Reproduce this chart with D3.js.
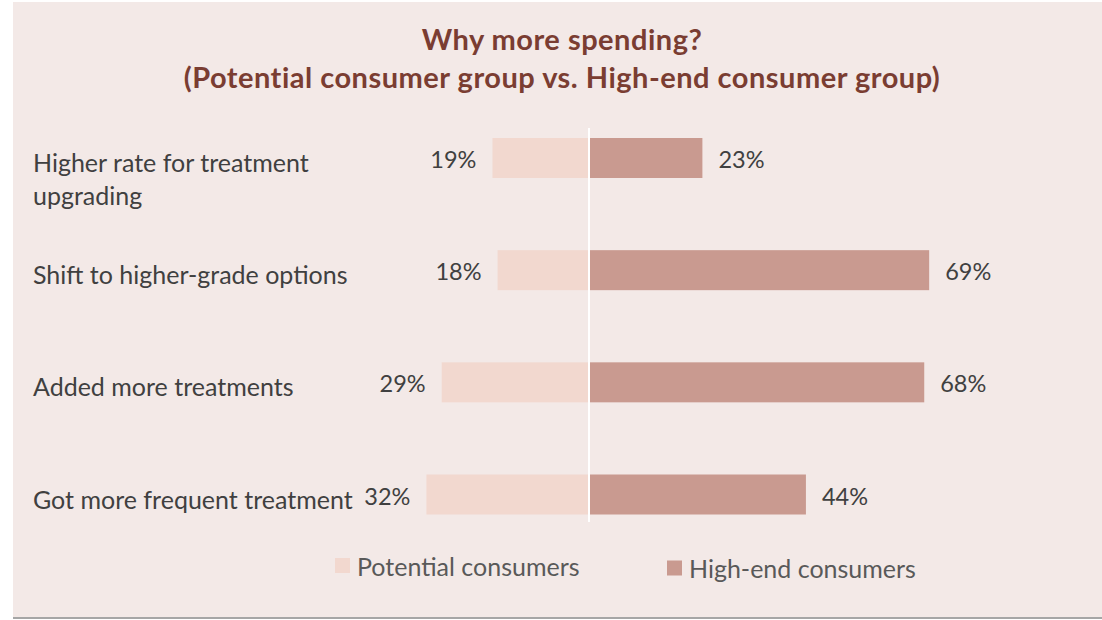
<!DOCTYPE html>
<html>
<head>
<meta charset="utf-8">
<script src="https://cdn.jsdelivr.net/npm/d3@7"></script>
<style>
  html, body { margin: 0; padding: 0; background: #ffffff; }
  svg { display: block; }
  text { font-family: Lato, "Open Sans", sans-serif; }
</style>
</head>
<body>
<svg id="chart" width="1102" height="620"></svg>
<script>
// Reasons for higher spending, two consumer groups
const categories = [
  ["Higher rate for treatment", "upgrading"],
  ["Shift to higher-grade options"],
  ["Added more treatments"],
  ["Got more frequent treatment"]
];
const potentialValues = [19, 18, 29, 32];   // % of potential consumers
const highEndValues   = [23, 69, 68, 44];   // % of high-end consumers
const seriesNames = ["Potential consumers", "High-end consumers"];
const titleLines = ["Why more spending?", "(Potential consumer group vs. High-end consumer group)"];

const W = 1102, H = 620;
const colors = { potential: "#f2d8cf", highEnd: "#c99a90", bg: "#f3e9e7",
                 title: "#7a3d32", text: "#404040", legend: "#595959" };

const svg = d3.select("#chart");

// panel with a soft shadow along its lower edge
svg.append("rect").attr("x", 13).attr("y", 3).attr("width", W - 13).attr("height", 616)
  .attr("fill", "#a6a6a6");
svg.append("rect").attr("x", 13).attr("y", 2).attr("width", W - 13).attr("height", 615)
  .attr("fill", colors.bg);

// title
svg.append("g").selectAll("text").data(titleLines).join("text")
  .attr("x", 562).attr("y", (d, i) => 38 + i * 38)
  .attr("text-anchor", "middle").attr("dominant-baseline", "central")
  .attr("font-size", 29).attr("font-weight", 700).attr("letter-spacing", 0.5)
  .attr("fill", colors.title)
  .text(d => d);

// diverging scale: potential group to the left of zero, high-end to the right
const x = d3.scaleLinear().domain([-35, 0, 75]).range([589 - 35 * 5.08, 589, 589 + 75 * 4.93]);
const y = d3.scalePoint().domain(d3.range(categories.length)).range([158, 494.5]);
const barH = 40;

const rows = svg.append("g").selectAll("g").data(categories).join("g")
  .attr("transform", (d, i) => `translate(0,${y(i)})`);

rows.append("rect")
  .attr("x", (d, i) => x(-potentialValues[i])).attr("y", -barH / 2)
  .attr("width", (d, i) => x(0) - x(-potentialValues[i])).attr("height", barH)
  .attr("fill", colors.potential);

rows.append("rect")
  .attr("x", x(0)).attr("y", -barH / 2)
  .attr("width", (d, i) => x(highEndValues[i]) - x(0)).attr("height", barH)
  .attr("fill", colors.highEnd);

// value labels
rows.append("text")
  .attr("x", (d, i) => x(-potentialValues[i]) - 16).attr("y", 1)
  .attr("text-anchor", "end").attr("dominant-baseline", "central")
  .attr("font-size", 23.5).attr("fill", colors.text)
  .text((d, i) => potentialValues[i] + "%");

rows.append("text")
  .attr("x", (d, i) => x(highEndValues[i]) + 16).attr("y", 1)
  .attr("text-anchor", "start").attr("dominant-baseline", "central")
  .attr("font-size", 23.5).attr("fill", colors.text)
  .text((d, i) => highEndValues[i] + "%");

// category labels
rows.append("text")
  .attr("x", 33).attr("font-size", 25).attr("fill", colors.text)
  .selectAll("tspan").data(d => d).join("tspan")
  .attr("x", 33).attr("y", (d, j) => (j === 0 ? 4 : 4 + 33 * j))
  .attr("dominant-baseline", "central")
  .text(d => d);

// zero line
svg.append("line")
  .attr("x1", x(0)).attr("x2", x(0)).attr("y1", 128).attr("y2", 522)
  .attr("stroke", "#ffffff").attr("stroke-width", 2);

// legend
const legend = [
  { name: seriesNames[0], color: colors.potential, x: 335, y: 565.5 },
  { name: seriesNames[1], color: colors.highEnd, x: 667, y: 568 }
];
const lg = svg.append("g").selectAll("g").data(legend).join("g")
  .attr("transform", d => `translate(${d.x},${d.y})`);
lg.append("rect").attr("x", 0).attr("y", -7.5).attr("width", 15).attr("height", 15)
  .attr("fill", d => d.color);
lg.append("text").attr("x", 22).attr("y", 0).attr("dominant-baseline", "central")
  .attr("font-size", 25).attr("fill", colors.legend).text(d => d.name);
</script>
</body>
</html>
